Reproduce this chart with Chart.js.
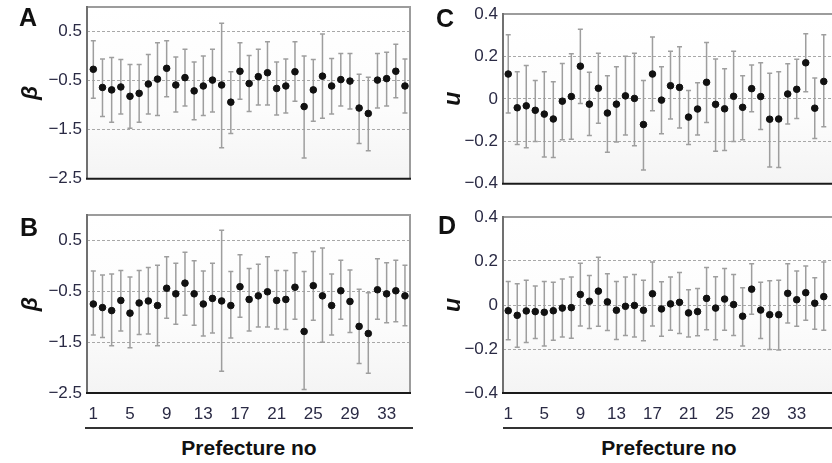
<!DOCTYPE html>
<html>
<head>
<meta charset="utf-8">
<script src="https://cdn.jsdelivr.net/npm/chart.js@4/dist/chart.umd.min.js"></script>
<style>
  html, body { margin: 0; padding: 0; background: #fff; }
  body { width: 832px; height: 463px; overflow: hidden; position: relative; font-family: "Liberation Sans", Arial, sans-serif; }
  .panel { position: absolute; }
  .letter { position: absolute; font-weight: bold; font-size: 25px; line-height: 25px; color: #111; }
  .xtitle { position: absolute; width: 300px; text-align: center; font-weight: bold; font-size: 21px; line-height: 24px; color: #111; }
  .rule { position: absolute; height: 2px; background: #333; }
</style>
</head>
<body>
<div class="panel" style="left:0;top:0"><canvas id="panelA" width="415" height="183"></canvas></div>
<div class="panel" style="left:0;top:200px"><canvas id="panelB" width="415" height="223"></canvas></div>
<div class="panel" style="left:420px;top:0"><canvas id="panelC" width="460" height="188"></canvas></div>
<div class="panel" style="left:420px;top:200px"><canvas id="panelD" width="460" height="223"></canvas></div>

<div class="letter" style="left:19px;top:5px">A</div>
<div class="letter" style="left:20px;top:215px">B</div>
<div class="letter" style="left:436px;top:6px">C</div>
<div class="letter" style="left:438px;top:213px">D</div>

<div class="rule" style="left:85px;top:427px;width:328px"></div>
<div class="rule" style="left:503px;top:427px;width:329px"></div>
<div class="xtitle" style="left:99px;top:436px">Prefecture no</div>
<div class="xtitle" style="left:519px;top:436px">Prefecture no</div>

<script>
// prefecture index (x axis)
const prefectureNo = [1, 2, 3, 4, 5, 6, 7, 8, 9, 10, 11, 12, 13, 14, 15, 16, 17, 18,
  19, 20, 21, 22, 23, 24, 25, 26, 27, 28, 29, 30, 31, 32, 33, 34, 35, 36];
const xTickValues = [1, 5, 9, 13, 17, 21, 25, 29, 33];
const betaTicks = [0.5, -0.5, -1.5, -2.5];
const uTicks = [0.4, 0.2, 0, -0.2, -0.4];

// Panel A: beta, estimate and interval
const betaAMean = [-0.27, -0.64, -0.69, -0.63, -0.82, -0.76, -0.57, -0.47, -0.25, -0.59, -0.44, -0.71,
  -0.61, -0.49, -0.59, -0.94, -0.31, -0.56, -0.42, -0.34, -0.66, -0.61, -0.32, -1.03, -0.69, -0.41,
  -0.61, -0.48, -0.51, -1.06, -1.17, -0.49, -0.46, -0.31, -0.61];
const betaAUpper = [0.31, -0.06, -0.03, -0.07, -0.17, -0.17, 0.03, 0.27, 0.31, -0.02, 0.14, -0.12,
  0.0, 0.14, 0.67, -0.32, 0.27, 0.01, 0.14, 0.29, -0.12, -0.06, 0.29, 0.0, -0.07, 0.45,
  -0.05, 0.05, 0.05, -0.37, -0.43, 0.05, 0.08, 0.24, -0.06];
const betaALower = [-0.86, -1.23, -1.35, -1.18, -1.47, -1.35, -1.18, -1.21, -0.83, -1.14, -1.02, -1.30,
  -1.21, -1.14, -1.87, -1.58, -0.88, -1.13, -1.0, -1.0, -1.20, -1.16, -0.92, -2.08, -1.33, -1.27,
  -1.18, -1.02, -1.08, -1.78, -1.93, -1.06, -1.02, -0.85, -1.16];

// Panel B
const betaBMean = [-0.75, -0.82, -0.88, -0.68, -0.93, -0.73, -0.69, -0.78, -0.44, -0.55, -0.34, -0.55,
  -0.75, -0.64, -0.69, -0.78, -0.41, -0.66, -0.59, -0.51, -0.68, -0.66, -0.42, -1.29, -0.39, -0.59,
  -0.78, -0.49, -0.70, -1.19, -1.33, -0.47, -0.55, -0.49, -0.59];
const betaBUpper = [-0.10, -0.18, -0.16, -0.09, -0.22, -0.09, -0.03, 0.01, 0.18, 0.05, 0.27, 0.10,
  -0.10, 0.05, 0.70, -0.11, 0.22, -0.05, 0.03, 0.18, -0.09, -0.09, 0.26, -0.11, 0.28, 0.35,
  -0.16, 0.11, -0.08, -0.46, -0.53, 0.14, 0.06, 0.11, 0.01];
const betaBLower = [-1.36, -1.41, -1.57, -1.28, -1.61, -1.35, -1.34, -1.57, -1.03, -1.15, -0.97, -1.17,
  -1.38, -1.32, -2.07, -1.42, -1.01, -1.28, -1.20, -1.20, -1.24, -1.25, -1.05, -2.43, -1.07, -1.50,
  -1.36, -1.05, -1.31, -1.92, -2.11, -1.05, -1.12, -1.10, -1.18];

// Panel C: u
const uCMean = [0.117, -0.042, -0.033, -0.054, -0.072, -0.095, -0.011, 0.011, 0.154, -0.025, 0.050, -0.067,
  -0.025, 0.014, 0.002, -0.121, 0.117, -0.006, 0.062, 0.054, -0.086, -0.048, 0.078, -0.026, -0.047, 0.012,
  -0.040, 0.048, 0.011, -0.096, -0.095, 0.023, 0.045, 0.170, -0.044, 0.082];
const uCUpper = [0.302, 0.128, 0.157, 0.087, 0.128, 0.081, 0.167, 0.213, 0.328, 0.125, 0.215, 0.109,
  0.151, 0.201, 0.215, 0.087, 0.291, 0.151, 0.224, 0.246, 0.039, 0.076, 0.266, 0.188, 0.142, 0.224,
  0.109, 0.159, 0.170, 0.121, 0.128, 0.165, 0.187, 0.307, 0.098, 0.302];
const uCLower = [-0.067, -0.215, -0.230, -0.201, -0.274, -0.277, -0.193, -0.191, -0.022, -0.173, -0.115, -0.252,
  -0.204, -0.171, -0.221, -0.336, -0.056, -0.165, -0.095, -0.137, -0.215, -0.171, -0.112, -0.247, -0.243, -0.201,
  -0.193, -0.061, -0.145, -0.321, -0.324, -0.118, -0.093, 0.034, -0.187, -0.131];

// Panel D
const uDMean = [-0.026, -0.047, -0.027, -0.030, -0.033, -0.026, -0.014, -0.012, 0.048, 0.017, 0.063, 0.014,
  -0.024, -0.006, -0.002, -0.024, 0.051, -0.018, 0.005, 0.012, -0.036, -0.030, 0.030, -0.014, 0.027, 0.002,
  -0.051, 0.072, -0.023, -0.044, -0.044, 0.053, 0.024, 0.056, 0.008, 0.038];
const uDUpper = [0.107, 0.097, 0.112, 0.086, 0.107, 0.103, 0.118, 0.127, 0.190, 0.134, 0.217, 0.142,
  0.107, 0.127, 0.139, 0.112, 0.196, 0.106, 0.127, 0.148, 0.069, 0.075, 0.171, 0.128, 0.166, 0.139,
  0.078, 0.187, 0.103, 0.110, 0.112, 0.187, 0.155, 0.177, 0.124, 0.195];
const uDLower = [-0.158, -0.192, -0.171, -0.152, -0.186, -0.160, -0.146, -0.151, -0.095, -0.107, -0.097, -0.116,
  -0.157, -0.139, -0.145, -0.163, -0.095, -0.142, -0.115, -0.130, -0.146, -0.140, -0.112, -0.158, -0.115, -0.139,
  -0.186, -0.042, -0.152, -0.202, -0.204, -0.082, -0.097, -0.069, -0.110, -0.115];

Chart.defaults.font.family = "'Liberation Sans', Arial, sans-serif";
const tickColor = "#2a2a44";

const makePoints = (mean) => mean.map((v, i) => ({ x: prefectureNo[i], y: v }));
const fmtTick = (v) => (v < 0 ? "\u2212" + Math.abs(v) : String(v));

// background, error bars and box frame
const panelPlugin = {
  id: "panelFrame",
  beforeDraw(chart) {
    const { ctx, chartArea: a } = chart;
    const g = ctx.createLinearGradient(0, a.top, 0, a.bottom);
    g.addColorStop(0, "#ffffff");
    g.addColorStop(0.6, "#fcfcfc");
    g.addColorStop(1, "#f4f4f4");
    ctx.save();
    ctx.fillStyle = g;
    ctx.fillRect(a.left, a.top, a.right - a.left, a.bottom - a.top);
    ctx.restore();
  },
  beforeDatasetsDraw(chart) {
    const { ctx, scales } = chart;
    const ds = chart.data.datasets[0];
    ctx.save();
    ctx.strokeStyle = "#9e9e9e";
    ctx.lineWidth = 1.5;
    ds.data.forEach((p, i) => {
      const x = scales.x.getPixelForValue(p.x);
      const yt = scales.y.getPixelForValue(ds.upper[i]);
      const yb = scales.y.getPixelForValue(ds.lower[i]);
      ctx.beginPath();
      ctx.moveTo(x, yt); ctx.lineTo(x, yb);
      ctx.moveTo(x - 2.5, yt); ctx.lineTo(x + 2.5, yt);
      ctx.moveTo(x - 2.5, yb); ctx.lineTo(x + 2.5, yb);
      ctx.stroke();
    });
    ctx.restore();
  },
  afterDraw(chart) {
    const { ctx, chartArea: a } = chart;
    ctx.save();
    ctx.lineWidth = 2;
    ctx.strokeStyle = "#9c9c9c";
    ctx.beginPath();
    ctx.moveTo(a.left, a.top); ctx.lineTo(a.right, a.top); ctx.lineTo(a.right, a.bottom);
    ctx.stroke();
    ctx.strokeStyle = "#707070";
    ctx.beginPath();
    ctx.moveTo(a.left, a.top - 1); ctx.lineTo(a.left, a.bottom);
    ctx.stroke();
    ctx.strokeStyle = "#1a1a1a";
    ctx.beginPath();
    ctx.moveTo(a.left - 1, a.bottom); ctx.lineTo(a.right + 1, a.bottom);
    ctx.stroke();
    ctx.restore();
  }
};

const buildPanel = (id, cfg) => new Chart(document.getElementById(id), {
  type: "scatter",
  data: {
    datasets: [{
      data: makePoints(cfg.mean),
      upper: cfg.upper,
      lower: cfg.lower,
      backgroundColor: "#111",
      borderColor: "#111",
      pointRadius: 3.3,
      pointHoverRadius: 3.3
    }]
  },
  options: {
    responsive: false,
    animation: false,
    events: [],
    layout: { padding: { top: cfg.padTop, right: cfg.padRight, bottom: cfg.padBottom, left: 0 } },
    plugins: { legend: { display: false }, tooltip: { enabled: false } },
    scales: {
      x: {
        type: "linear",
        min: cfg.xMin,
        max: cfg.xMax,
        afterBuildTicks: (s) => { s.ticks = xTickValues.map((v) => ({ value: v })); },
        afterFit: (s) => { s.height = cfg.xHeight; s.paddingLeft = 0; s.paddingRight = 0; },
        grid: { display: false },
        border: { display: false },
        ticks: { display: cfg.showX, color: tickColor, font: { size: 17 }, padding: 3, maxRotation: 0, autoSkip: false }
      },
      y: {
        type: "linear",
        min: cfg.yMin,
        max: cfg.yMax,
        afterBuildTicks: (s) => { s.ticks = cfg.yTicks.map((v) => ({ value: v })); },
        afterFit: (s) => { s.width = cfg.yWidth; s.paddingTop = 0; s.paddingBottom = 0; },
        grid: { color: "#a8a8a8", lineWidth: 1, drawTicks: false },
        border: { display: false, dash: [3, 2] },
        ticks: { color: tickColor, font: { size: 17 }, padding: 5, callback: fmtTick },
        title: {
          display: true,
          text: cfg.yTitle,
          color: "#111",
          font: { size: 23, weight: "bold", style: "italic" },
          padding: { top: cfg.titlePad, bottom: 0 }
        }
      }
    }
  },
  plugins: [panelPlugin]
});

buildPanel("panelA", {
  mean: betaAMean, upper: betaAUpper, lower: betaALower,
  yMin: -2.5, yMax: 1.0, yTicks: betaTicks, yTitle: "\u03B2", yWidth: 87, titlePad: 17,
  xMin: 0.31, xMax: 35.55, showX: false, xHeight: 0,
  padTop: 7, padRight: 5, padBottom: 2
});
buildPanel("panelB", {
  mean: betaBMean, upper: betaBUpper, lower: betaBLower,
  yMin: -2.5, yMax: 1.0, yTicks: betaTicks, yTitle: "\u03B2", yWidth: 87, titlePad: 17,
  xMin: 0.31, xMax: 35.55, showX: true, xHeight: 30,
  padTop: 15, padRight: 5, padBottom: 0
});
buildPanel("panelC", {
  mean: uCMean, upper: uCUpper, lower: uCLower,
  yMin: -0.4, yMax: 0.4, yTicks: uTicks, yTitle: "u", yWidth: 83, titlePad: 20,
  xMin: 0.42, xMax: 41.76, showX: false, xHeight: 0,
  padTop: 14, padRight: 0, padBottom: 2
});
buildPanel("panelD", {
  mean: uDMean, upper: uDUpper, lower: uDLower,
  yMin: -0.4, yMax: 0.4, yTicks: uTicks, yTitle: "u", yWidth: 83, titlePad: 20,
  xMin: 0.42, xMax: 41.76, showX: true, xHeight: 30,
  padTop: 17, padRight: 0, padBottom: 0
});
</script>
</body>
</html>
